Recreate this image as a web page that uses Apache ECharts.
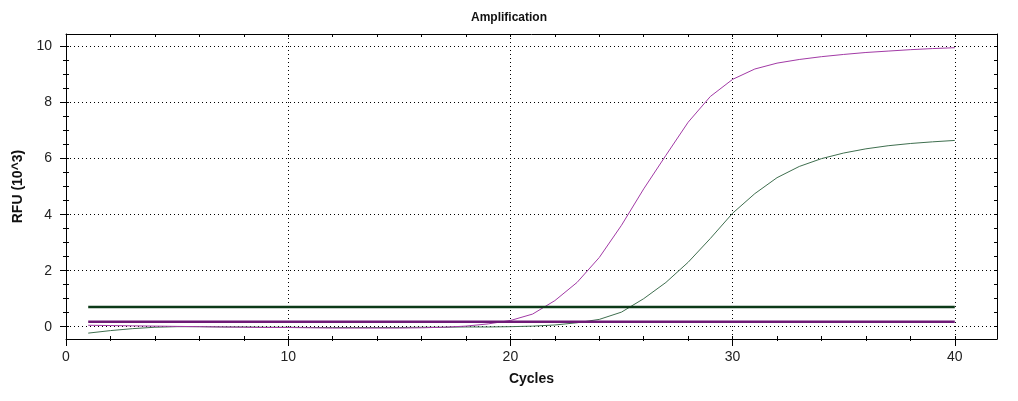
<!DOCTYPE html>
<html>
<head>
<meta charset="utf-8">
<script src="https://cdn.jsdelivr.net/npm/echarts@6/dist/echarts.min.js"></script>
<style>
  html, body { margin: 0; padding: 0; background: #fff; }
  #chart { width: 1018px; height: 401px; }
</style>
</head>
<body>
<div id="chart"></div>
<script>
// cycles 1..40
const cycles = [1, 2, 3, 4, 5, 6, 7, 8, 9, 10, 11, 12, 13, 14, 15, 16, 17, 18, 19, 20,
  21, 22, 23, 24, 25, 26, 27, 28, 29, 30, 31, 32, 33, 34, 35, 36, 37, 38, 39, 40];

// RFU (10^3) readings
const purpleRfu = [0.05, 0.04, 0.03, 0.02, 0.01, 0.0, -0.01, -0.02, -0.03, -0.03,
  -0.04, -0.05, -0.05, -0.05, -0.05, -0.04, -0.02, 0.02, 0.1, 0.22,
  0.45, 0.93, 1.58, 2.47, 3.62, 4.92, 6.12, 7.3, 8.22, 8.83,
  9.2, 9.41, 9.54, 9.64, 9.72, 9.79, 9.84, 9.89, 9.93, 9.96];
const greenRfu = [-0.23, -0.14, -0.07, -0.02, 0.0, 0.0, -0.01, -0.01, -0.02, -0.02,
  -0.03, -0.03, -0.03, -0.03, -0.03, -0.02, -0.02, -0.01, -0.01, 0.0,
  0.02, 0.06, 0.14, 0.26, 0.52, 1.0, 1.58, 2.3, 3.15, 4.05,
  4.75, 5.32, 5.72, 6.0, 6.2, 6.35, 6.46, 6.54, 6.6, 6.65];

// threshold lines
const thresholdSpan = [1, 40];
const purpleThreshold = 0.18;
const greenThreshold = 0.7;

// ticks
const xMajorTicks = [0, 10, 20, 30, 40];
const xMinorTicks = [0, 2, 4, 6, 8, 10, 12, 14, 16, 18, 20, 22, 24, 26, 28, 30, 32, 34, 36, 38, 40];
const yMajorTicks = [0, 2, 4, 6, 8, 10];
const yMinorTicks = [0, 0.5, 1, 1.5, 2, 2.5, 3, 3.5, 4, 4.5, 5, 5.5, 6, 6.5, 7, 7.5, 8, 8.5, 9, 9.5, 10];

const xRange = [0, 41.9];
const yRange = [-0.44, 10.45];

const chart = echarts.init(document.getElementById('chart'));
const font = '"Liberation Sans", Arial, sans-serif';
const black = '#000';
const dots = { color: black, width: 1, type: [1, 3] };

const pairs = (xs, ys) => xs.map((x, i) => [x, ys[i]]);

const option = {
  animation: false,
  backgroundColor: '#fff',
  textStyle: { fontFamily: font },
  title: {
    text: 'Amplification',
    left: 'center',
    top: 7,
    textStyle: { fontFamily: font, fontSize: 12, fontWeight: 'bold', color: '#111' },
  },
  grid: { left: 66, right: 21, top: 34, bottom: 62 },
  xAxis: [
    {
      type: 'value', position: 'bottom', min: xRange[0], max: xRange[1],
      name: 'Cycles', nameLocation: 'middle', nameGap: 33,
      nameTextStyle: { fontFamily: font, fontSize: 14, fontWeight: 'bold', color: '#111' },
      axisLine: { onZero: false, lineStyle: { color: black, width: 1 } },
      axisTick: { customValues: xMajorTicks, length: 7, lineStyle: { color: black } },
      axisLabel: { customValues: xMajorTicks, margin: 11, fontSize: 14, color: '#222', fontFamily: font },
      splitLine: { show: true, lineStyle: dots },
    },
    {
      type: 'value', position: 'bottom', offset: -3, min: xRange[0], max: xRange[1],
      axisLine: { show: false, onZero: false },
      axisTick: { customValues: xMinorTicks, length: 5, lineStyle: { color: black } },
      axisLabel: { show: false },
      splitLine: { show: false },
    },
    {
      type: 'value', position: 'top', min: xRange[0], max: xRange[1],
      axisLine: { show: true, onZero: false, lineStyle: { color: black } },
      axisTick: { customValues: xMinorTicks, inside: true, length: 3, lineStyle: { color: black } },
      axisLabel: { show: false },
      splitLine: { show: false },
    },
  ],
  yAxis: [
    {
      type: 'value', position: 'left', min: yRange[0], max: yRange[1],
      name: 'RFU (10^3)', nameLocation: 'middle', nameGap: 40,
      nameTextStyle: { fontFamily: font, fontSize: 14, fontWeight: 'bold', color: '#111' },
      axisLine: { show: true, onZero: false, lineStyle: { color: black, width: 1 } },
      axisTick: { show: true, customValues: yMajorTicks, length: 6, lineStyle: { color: black } },
      axisLabel: { customValues: yMajorTicks, margin: 14, fontSize: 14, color: '#222', fontFamily: font },
      splitLine: { show: true, lineStyle: dots },
    },
    {
      type: 'value', position: 'left', offset: -3, min: yRange[0], max: yRange[1],
      axisLine: { show: false, onZero: false },
      axisTick: { show: true, customValues: yMinorTicks, length: 6, lineStyle: { color: black } },
      axisLabel: { show: false },
      splitLine: { show: false },
    },
    {
      type: 'value', position: 'right', min: yRange[0], max: yRange[1],
      axisLine: { show: true, onZero: false, lineStyle: { color: black } },
      axisTick: { show: true, customValues: yMinorTicks, inside: true, length: 3, lineStyle: { color: black } },
      axisLabel: { show: false },
      splitLine: { show: false },
    },
  ],
  series: [
    {
      name: 'Green', type: 'line', data: pairs(cycles, greenRfu),
      showSymbol: false, symbol: 'none',
      lineStyle: { color: '#3f6f4f', width: 1 },
    },
    {
      name: 'Purple', type: 'line', data: pairs(cycles, purpleRfu),
      showSymbol: false, symbol: 'none',
      lineStyle: { color: '#a23aa6', width: 1 },
    },
    {
      name: 'Green threshold', type: 'line',
      data: thresholdSpan.map(x => [x, greenThreshold]),
      symbol: 'none', lineStyle: { color: '#0c3a18', width: 2.5 },
    },
    {
      name: 'Purple threshold', type: 'line',
      data: thresholdSpan.map(x => [x, purpleThreshold]),
      symbol: 'none', lineStyle: { color: '#6e1a76', width: 2.5 },
    },
  ],
};

chart.setOption(option);
</script>
</body>
</html>
